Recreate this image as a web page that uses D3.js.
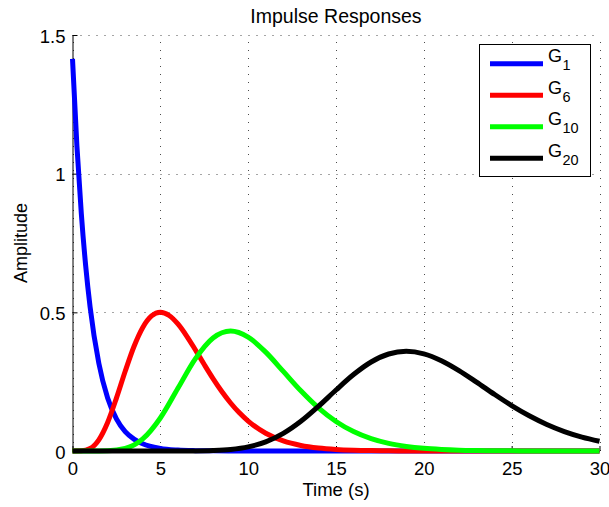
<!DOCTYPE html>
<html>
<head>
<meta charset="utf-8">
<script src="https://cdn.jsdelivr.net/npm/d3@7"></script>
<style>
    body { margin: 0; background: #fff; }
    svg text { font-family: "Liberation Sans", Arial, Helvetica, sans-serif; fill: #000; }
</style>
</head>
<body>
<div id="chart"></div>
<script>
'use strict';

//数据 (时间, 幅值)
var timesG1 = [0, 0.25, 0.5, 0.75, 1, 1.5, 2, 2.5, 3, 3.5, 4, 5, 6, 7, 8, 10, 15, 20, 25, 30];
var valuesG1 = [1.414, 1.101, 0.858, 0.668, 0.520, 0.316, 0.191, 0.116, 0.070, 0.043, 0.026, 0.0095, 0.0035, 0.0013, 0.0005, 0.0001, 0, 0, 0, 0];

var timesG6 = [0, 0.5, 1, 1.5, 2, 2.5, 3, 3.5, 4, 4.5, 5, 5.5, 6, 6.5, 7, 7.5, 8, 8.5, 9, 9.5, 10,
    11, 12, 13, 14, 15, 16, 17, 18, 19, 20, 25, 30];
var valuesG6 = [0, 0.0005, 0.0087, 0.0403, 0.1029, 0.1905, 0.2875, 0.3768, 0.4456, 0.4870, 0.5003,
    0.4887, 0.4580, 0.4145, 0.3641, 0.3118, 0.2612, 0.2145, 0.1731, 0.1376, 0.1079,
    0.0639, 0.0363, 0.0199, 0.0106, 0.0055, 0.0028, 0.0014, 0.0007, 0.0003, 0.0002, 0, 0];

var timesInt = [0, 1, 2, 3, 4, 5, 6, 7, 8, 9, 10, 11, 12, 13, 14, 15,
    16, 17, 18, 19, 20, 21, 22, 23, 24, 25, 26, 27, 28, 29, 30];
var valuesG10 = [0, 0, 0.0006, 0.0089, 0.0434, 0.1191, 0.2261, 0.3330, 0.4075, 0.4327, 0.4108,
    0.3564, 0.2869, 0.2169, 0.1555, 0.1064, 0.0700, 0.0444, 0.0273, 0.0164, 0.0095,
    0.0055, 0.0030, 0.0017, 0.0009, 0.0005, 0.0003, 0.0001, 0.0001, 0, 0];
var valuesG20 = [0, 0, 0, 0, 0, 0, 0.00005, 0.0003, 0.0016, 0.0054, 0.0147,
    0.0331, 0.0636, 0.1071, 0.1611, 0.2199, 0.2757, 0.3209, 0.3497, 0.3594, 0.3504,
    0.3257, 0.2900, 0.2483, 0.2050, 0.1638, 0.1270, 0.0957, 0.0702, 0.0503, 0.0353];

var seriesNames = ["1", "6", "10", "20"];
var seriesColors = ["#0000ff", "#ff0000", "#00ff00", "#000000"];
var xTicks = [0, 5, 10, 15, 20, 25, 30];
var yTicks = [0, 0.5, 1, 1.5];

var width = 609, height = 507;
var plotLeft = 72.5, plotRight = 599.5, plotTop = 35, plotBottom = 451;

var svg = d3.select("#chart").append("svg")
    .attr("width", width)
    .attr("height", height);

var x = d3.scaleLinear().domain([0, 30]).range([plotLeft, plotRight]);
var y = d3.scaleLinear().domain([0, 1.5]).range([plotBottom, plotTop]);

//网格线
var grid = svg.append("g").attr("class", "grid")
    .attr("stroke", "#000").attr("stroke-width", 1)
    .attr("stroke-dasharray", "1,7").attr("opacity", 0.7);
grid.selectAll("line.v").data(xTicks).enter().append("line")
    .attr("class", "v")
    .attr("x1", function (d) { return Math.round(x(d)) + 0.5; })
    .attr("x2", function (d) { return Math.round(x(d)) + 0.5; })
    .attr("y1", plotBottom).attr("y2", plotTop);
grid.selectAll("line.h").data(yTicks).enter().append("line")
    .attr("class", "h")
    .attr("y1", function (d) { return Math.round(y(d)) + 0.5; })
    .attr("y2", function (d) { return Math.round(y(d)) + 0.5; })
    .attr("x1", plotLeft).attr("x2", plotRight);

//坐标轴
var xAxis = d3.axisBottom(x).tickValues(xTicks).tickFormat(String)
    .tickSizeInner(-5).tickSizeOuter(0).tickPadding(11);
var yAxis = d3.axisLeft(y).tickValues(yTicks).tickFormat(String)
    .tickSizeInner(-5).tickSizeOuter(0).tickPadding(7);

var gx = svg.append("g").attr("transform", "translate(0," + plotBottom + ")").call(xAxis);
var gy = svg.append("g").attr("transform", "translate(" + plotLeft + ",0)").call(yAxis);
[gx, gy].forEach(function (g) {
    g.selectAll("text").style("font-size", "18.5px");
    g.select(".domain").attr("stroke", "#000");
    g.selectAll(".tick line").attr("stroke", "#000");
});
gy.selectAll("text").attr("dy", "0.38em");

//曲线
var line = d3.line()
    .x(function (d) { return x(d[0]); })
    .y(function (d) { return y(d[1]); })
    .curve(d3.curveMonotoneX);

var series = [
    d3.zip(timesG1, valuesG1),
    d3.zip(timesG6, valuesG6),
    d3.zip(timesInt, valuesG10),
    d3.zip(timesInt, valuesG20)
];

svg.append("g").selectAll("path").data(series).enter().append("path")
    .attr("d", line)
    .attr("fill", "none")
    .attr("stroke", function (d, i) { return seriesColors[i]; })
    .attr("stroke-width", 5)
    .attr("stroke-linejoin", "round");

//标题和轴标签
svg.append("text")
    .attr("x", (plotLeft + plotRight) / 2).attr("y", 23)
    .attr("text-anchor", "middle")
    .style("font-size", "19.5px")
    .text("Impulse Responses");

svg.append("text")
    .attr("x", (plotLeft + plotRight) / 2).attr("y", 496)
    .attr("text-anchor", "middle")
    .style("font-size", "18.5px")
    .text("Time (s)");

svg.append("text")
    .attr("transform", "translate(27," + ((plotTop + plotBottom) / 2) + ") rotate(-90)")
    .attr("text-anchor", "middle")
    .style("font-size", "18px")
    .text("Amplitude");

//图例
var legend = svg.append("g").attr("class", "legend");
legend.append("rect")
    .attr("x", 479.5).attr("y", 44.5)
    .attr("width", 111).attr("height", 132)
    .attr("fill", "#fff").attr("stroke", "#000").attr("stroke-width", 1);

var items = legend.selectAll("g.item").data(seriesNames).enter().append("g")
    .attr("class", "item")
    .attr("transform", function (d, i) { return "translate(0," + (63.7 + i * 31.5) + ")"; });
items.append("line")
    .attr("x1", 490).attr("x2", 543)
    .attr("stroke", function (d, i) { return seriesColors[i]; })
    .attr("stroke-width", 5);
var label = items.append("text")
    .attr("x", 548).attr("y", -1.5)
    .style("font-size", "18px");
label.append("tspan").text("G");
label.append("tspan")
    .attr("dy", 8).attr("dx", 0.5)
    .style("font-size", "14.5px")
    .text(function (d) { return d; });
</script>
</body>
</html>
